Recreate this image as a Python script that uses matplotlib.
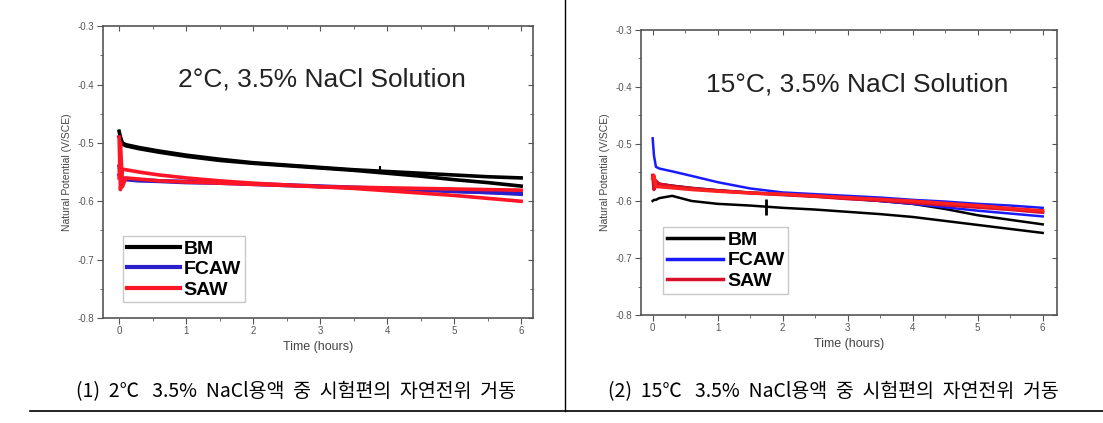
import matplotlib
matplotlib.use('Agg')
import matplotlib.pyplot as plt
from matplotlib.ticker import MultipleLocator

plt.rcParams['font.family'] = ['Liberation Sans', 'DejaVu Sans']

# time grid (hours)
t = [0, 0.02, 0.05, 0.1, 0.3, 0.6, 1, 1.5, 2, 2.5, 3, 3.5, 4, 4.5, 5, 5.5, 6]

# 2 C, 3.5% NaCl
bm_2c_a = [-0.480, -0.490, -0.500, -0.503, -0.508, -0.514, -0.521, -0.528, -0.534, -0.538, -0.542, -0.546, -0.549, -0.552, -0.555, -0.558, -0.560]
bm_2c_b = [-0.490, -0.495, -0.502, -0.505, -0.510, -0.516, -0.523, -0.530, -0.535, -0.539, -0.543, -0.547, -0.552, -0.557, -0.563, -0.568, -0.574]
fcaw_2c_a = [-0.540, -0.555, -0.560, -0.561, -0.563, -0.565, -0.566, -0.568, -0.570, -0.572, -0.574, -0.576, -0.578, -0.580, -0.583, -0.585, -0.588]
fcaw_2c_b = [-0.555, -0.560, -0.562, -0.563, -0.565, -0.566, -0.568, -0.569, -0.571, -0.573, -0.575, -0.577, -0.579, -0.581, -0.583, -0.585, -0.586]
saw_2c_a = [-0.490, -0.580, -0.545, -0.546, -0.550, -0.555, -0.560, -0.565, -0.569, -0.572, -0.575, -0.578, -0.582, -0.586, -0.590, -0.595, -0.600]
saw_2c_b = [-0.560, -0.500, -0.575, -0.560, -0.562, -0.565, -0.567, -0.569, -0.571, -0.573, -0.575, -0.576, -0.577, -0.578, -0.579, -0.580, -0.581]
mark_2c = (3.9, -0.546)

# 15 C, 3.5% NaCl
bm_15c_a = [-0.600, -0.598, -0.598, -0.595, -0.591, -0.600, -0.605, -0.608, -0.612, -0.615, -0.619, -0.623, -0.628, -0.635, -0.642, -0.649, -0.656]
bm_15c_b = [-0.555, -0.560, -0.565, -0.570, -0.573, -0.577, -0.581, -0.585, -0.588, -0.591, -0.595, -0.600, -0.605, -0.614, -0.625, -0.633, -0.641]
fcaw_15c_a = [-0.490, -0.520, -0.540, -0.543, -0.548, -0.556, -0.567, -0.578, -0.585, -0.588, -0.591, -0.594, -0.598, -0.601, -0.605, -0.608, -0.612]
fcaw_15c_b = [-0.560, -0.565, -0.570, -0.572, -0.575, -0.578, -0.582, -0.586, -0.589, -0.592, -0.596, -0.600, -0.605, -0.611, -0.617, -0.622, -0.627]
saw_15c_a = [-0.555, -0.580, -0.565, -0.570, -0.574, -0.578, -0.582, -0.586, -0.589, -0.592, -0.596, -0.599, -0.603, -0.607, -0.611, -0.615, -0.620]
saw_15c_b = [-0.560, -0.555, -0.575, -0.575, -0.577, -0.580, -0.583, -0.586, -0.588, -0.591, -0.594, -0.597, -0.600, -0.604, -0.608, -0.613, -0.617]
mark_15c = (1.75, -0.611)

captions = ['(1)  2\u2103   3.5%  NaCl용액  중  시험편의  자연전위  거동',
            '(2)  15\u2103   3.5%  NaCl용액  중  시험편의  자연전위  거동']


def style_axes(ax, xlim):
    ax.set_xlim(*xlim)
    ax.set_ylim(-0.8, -0.3)
    ax.xaxis.set_major_locator(MultipleLocator(1))
    ax.xaxis.set_minor_locator(MultipleLocator(0.5))
    ax.yaxis.set_major_locator(MultipleLocator(0.1))
    ax.yaxis.set_minor_locator(MultipleLocator(0.05))
    ax.set_yticklabels(['%g' % v for v in ax.get_yticks()])
    for s in ax.spines.values():
        s.set_color('#555555')
        s.set_linewidth(1.2)
    ax.tick_params(which='both', direction='out', color='#555555',
                   labelsize=7, labelcolor='#555555', pad=2)
    ax.tick_params(which='major', length=4)
    ax.tick_params(which='minor', length=2)
    ax.set_xlabel('Time (hours)', fontsize=9, color='#444444', labelpad=3)
    ax.set_ylabel('Natural Potential (V/SCE)', fontsize=7.5, color='#444444', labelpad=4)
    # Origin-style inward ticks on top/right
    top = ax.secondary_xaxis('top')
    top.xaxis.set_major_locator(MultipleLocator(1))
    top.xaxis.set_minor_locator(MultipleLocator(0.5))
    top.tick_params(which='both', direction='in', color='#555555', labeltop=False)
    top.spines['top'].set_visible(False)
    right = ax.secondary_yaxis('right')
    right.yaxis.set_major_locator(MultipleLocator(0.1))
    right.yaxis.set_minor_locator(MultipleLocator(0.05))
    right.tick_params(which='both', direction='in', color='#555555', labelright=False)
    right.spines['right'].set_visible(False)


fig = plt.figure(figsize=(11.03, 4.23), dpi=100)

# left panel
ax1 = fig.add_axes([0.0934, 0.2482, 0.390, 0.690])
lw = 2.6
ax1.plot(t, bm_2c_a, color='black', lw=lw, label='BM')
ax1.plot(t, bm_2c_b, color='black', lw=lw)
ax1.plot(t, fcaw_2c_a, color='#2a1fc8', lw=lw, label='FCAW')
ax1.plot(t, fcaw_2c_b, color='#2a1fc8', lw=lw)
ax1.plot(t, saw_2c_a, color='#ff1525', lw=lw, label='SAW')
ax1.plot(t, saw_2c_b, color='#ff1525', lw=lw)
ax1.plot(*mark_2c, marker='|', color='black', ms=6, mew=1.5)
style_axes(ax1, (-0.24, 6.18))
ax1.text(0.51, 0.818, '2\u00b0C, 3.5% NaCl Solution', transform=ax1.transAxes,
         ha='center', va='center', fontsize=19, color='#222222')
leg1 = ax1.legend(loc='lower left', bbox_to_anchor=(0.025, 0.02),
                  prop={'weight': 'bold', 'size': 14}, handlelength=2.7,
                  handletextpad=0.2, labelspacing=0.15, borderpad=0.2,
                  fancybox=False, edgecolor='#bbbbbb')
for h in leg1.get_lines():
    h.set_linewidth(3)

# right panel
ax2 = fig.add_axes([0.5811, 0.2553, 0.3772, 0.6738])
lw = 1.8
ax2.plot(t, bm_15c_a, color='black', lw=lw, label='BM')
ax2.plot(t, bm_15c_b, color='black', lw=lw)
ax2.plot(t, fcaw_15c_a, color='#1a1aff', lw=lw, label='FCAW')
ax2.plot(t, fcaw_15c_b, color='#1a1aff', lw=lw)
ax2.plot(t, saw_15c_a, color='#d8102a', lw=lw + 0.6, label='SAW')
ax2.plot(t, saw_15c_b, color='#ff2020', lw=lw + 0.6)
ax2.plot(*mark_15c, marker='|', color='black', ms=12, mew=2)
style_axes(ax2, (-0.18, 6.22))
ax2.text(0.52, 0.81, '15\u00b0C, 3.5% NaCl Solution', transform=ax2.transAxes,
         ha='center', va='center', fontsize=19, color='#222222')
leg2 = ax2.legend(loc='lower left', bbox_to_anchor=(0.03, 0.04),
                  prop={'weight': 'bold', 'size': 14}, handlelength=2.9,
                  handletextpad=0.2, labelspacing=0.15, borderpad=0.2,
                  fancybox=False, edgecolor='#bbbbbb')
for h in leg2.get_lines():
    h.set_linewidth(2.5)

# captions and frame lines
fig.text(0.268, 0.073, captions[0], ha='center', va='center', fontsize=14,
         family=['Noto Sans CJK KR', 'DejaVu Sans'])
fig.text(0.756, 0.073, captions[1], ha='center', va='center', fontsize=14,
         family=['Noto Sans CJK KR', 'DejaVu Sans'])
fig.add_artist(plt.Line2D([0.512, 0.512], [0.028, 1.0], color='black', lw=1))
fig.add_artist(plt.Line2D([0.027, 1.0], [0.028, 0.028], color='black', lw=1.2))

fig.savefig('out.png', dpi=100)
